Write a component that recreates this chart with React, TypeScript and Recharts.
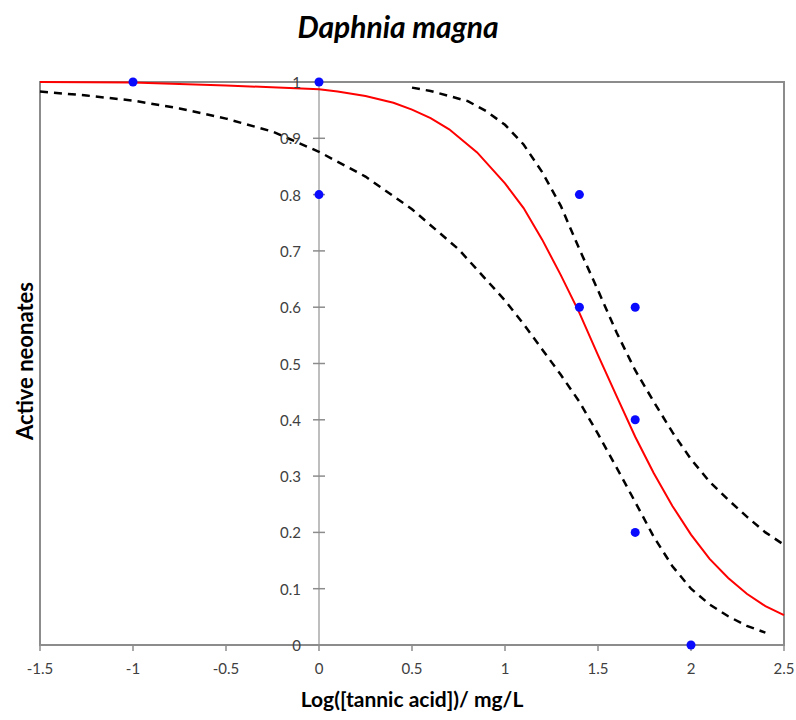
import React from "react";
import {
  ComposedChart,
  Line,
  Scatter,
  XAxis,
  YAxis,
  ReferenceLine,
  ReferenceArea,
} from "recharts";

// observed fraction of active neonates
const obsX = [-1, 0, 0, 1.4, 1.4, 1.7, 1.7, 1.7, 2];
const obsY = [1, 1, 0.8, 0.8, 0.6, 0.6, 0.4, 0.2, 0];

// fitted dose-response curve
const fitX = [-1.5, -1, -0.5, 0, 0.1, 0.25, 0.4, 0.5, 0.6, 0.7, 0.85, 1, 1.1, 1.2, 1.3, 1.4, 1.5, 1.6, 1.7, 1.8, 1.9, 2, 2.1, 2.2, 2.3, 2.4, 2.5];
const fitY = [1, 0.999, 0.994, 0.987, 0.983, 0.975, 0.963, 0.951, 0.936, 0.916, 0.875, 0.82, 0.776, 0.72, 0.657, 0.59, 0.515, 0.442, 0.37, 0.305, 0.247, 0.196, 0.153, 0.119, 0.091, 0.069, 0.053];

// upper confidence band
const upperX = [0.5, 0.6, 0.7, 0.8, 0.9, 1, 1.1, 1.2, 1.3, 1.4, 1.5, 1.6, 1.7, 1.8, 1.9, 2, 2.1, 2.2, 2.3, 2.4, 2.5];
const upperY = [0.99, 0.984, 0.975, 0.966, 0.948, 0.924, 0.889, 0.84, 0.78, 0.703, 0.63, 0.555, 0.488, 0.432, 0.378, 0.33, 0.29, 0.258, 0.228, 0.2, 0.178];

// lower confidence band
const lowerX = [-1.5, -1.25, -1, -0.75, -0.5, -0.25, 0, 0.25, 0.5, 0.75, 1, 1.1, 1.2, 1.3, 1.4, 1.5, 1.6, 1.7, 1.8, 1.9, 2, 2.1, 2.2, 2.3, 2.4];
const lowerY = [0.983, 0.976, 0.967, 0.953, 0.935, 0.912, 0.876, 0.832, 0.774, 0.703, 0.612, 0.57, 0.525, 0.48, 0.432, 0.375, 0.315, 0.254, 0.192, 0.14, 0.1, 0.072, 0.051, 0.034, 0.022];

const xTicks = [-1.5, -1, -0.5, 0, 0.5, 1, 1.5, 2, 2.5];
const yTicks = [0, 0.1, 0.2, 0.3, 0.4, 0.5, 0.6, 0.7, 0.8, 0.9, 1];

const zip = (xs: number[], ys: number[]) => xs.map((x, i) => ({ x, y: ys[i] }));

const observed = zip(obsX, obsY);
const fitted = zip(fitX, fitY);
const upper = zip(upperX, upperY);
const lower = zip(lowerX, lowerY);
const yAxisTicks = yTicks.map((y) => ({ x: 0, y }));

const FONT = "Lato, 'Open Sans', sans-serif";
const AXIS = "#8c8c8c";

// y axis sits at x = 0, so its ticks go through the chart scales as points
const YTick = (props: any) => {
  const { cx, cy, payload } = props;
  return (
    <g>
      <line x1={cx - 6} x2={cx + 6} y1={cy} y2={cy} stroke={AXIS} strokeWidth={1.5} />
      <text
        x={cx - 18}
        y={cy}
        textAnchor="end"
        dominantBaseline="central"
        fontFamily={FONT}
        fontSize={15}
        fill="#404040"
      >
        {String(payload.y)}
      </text>
    </g>
  );
};

const Dot = (props: any) => <circle cx={props.cx} cy={props.cy} r={4.5} fill="#0a0aff" />;

export default function App() {
  return (
    <div style={{ position: "absolute", left: 0, top: 0, width: 796, height: 720, background: "#fff" }}>
      <div
        style={{
          position: "absolute",
          left: 0,
          width: 796,
          top: 8,
          textAlign: "center",
          fontFamily: FONT,
          fontWeight: 700,
          fontStyle: "italic",
          fontSize: 30,
          color: "#000",
        }}
      >
        Daphnia magna
      </div>
      <div
        style={{
          position: "absolute",
          left: 40,
          width: 744,
          top: 686,
          textAlign: "center",
          fontFamily: FONT,
          fontWeight: 700,
          fontSize: 21,
          color: "#000",
        }}
      >
        Log([tannic acid])/ mg/L
      </div>
      <div
        style={{
          position: "absolute",
          left: 24,
          top: 361,
          transform: "translate(-50%, -50%) rotate(-90deg)",
          whiteSpace: "nowrap",
          fontFamily: FONT,
          fontWeight: 700,
          fontSize: 22,
          color: "#000",
        }}
      >
        Active neonates
      </div>
      <ComposedChart
        width={796}
        height={720}
        margin={{ top: 82, right: 12, bottom: 45, left: 0 }}
      >
        <XAxis
          type="number"
          dataKey="x"
          domain={[-1.5, 2.5]}
          ticks={xTicks}
          interval={0}
          height={30}
          axisLine={{ stroke: AXIS, strokeWidth: 2 }}
          tickLine={{ stroke: AXIS, strokeWidth: 1.5 }}
          tickSize={6}
          tickMargin={12}
          tick={{ fontFamily: FONT, fontSize: 15, fill: "#404040" }}
        />
        <YAxis
          type="number"
          dataKey="y"
          domain={[0, 1]}
          width={40}
          tick={false}
          axisLine={false}
          tickLine={false}
        />
        <ReferenceArea
          x1={-1.5}
          x2={2.5}
          y1={0}
          y2={1}
          fill="none"
          stroke={AXIS}
          strokeWidth={2}
        />
        <ReferenceLine x={0} stroke="#a8a8a8" strokeWidth={1.5} />
        <Scatter data={yAxisTicks} shape={YTick} isAnimationActive={false} />
        <Line
          data={lower}
          dataKey="y"
          type="linear"
          stroke="#000"
          strokeWidth={2.5}
          strokeDasharray="8 6"
          dot={false}
          isAnimationActive={false}
        />
        <Line
          data={upper}
          dataKey="y"
          type="linear"
          stroke="#000"
          strokeWidth={2.5}
          strokeDasharray="8 6"
          dot={false}
          isAnimationActive={false}
        />
        <Line
          data={fitted}
          dataKey="y"
          type="linear"
          stroke="#ff0000"
          strokeWidth={2}
          dot={false}
          isAnimationActive={false}
        />
        <Scatter data={observed} shape={Dot} isAnimationActive={false} />
      </ComposedChart>
    </div>
  );
}
